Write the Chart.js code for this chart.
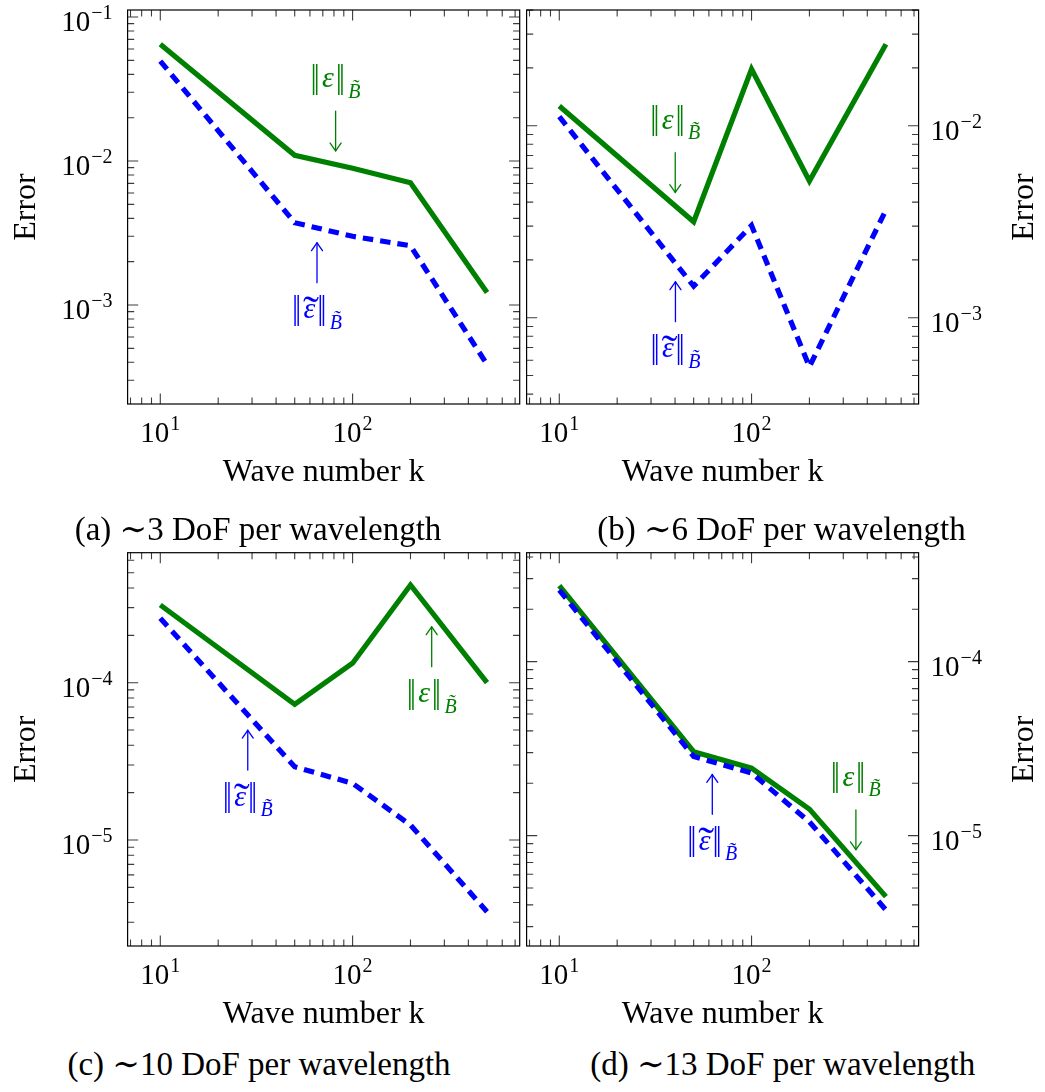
<!DOCTYPE html>
<html><head><meta charset="utf-8">
<script src="https://cdn.jsdelivr.net/npm/chart.js@4.4.1/dist/chart.umd.min.js"></script>
<style>
html,body{margin:0;padding:0;background:#fff;}
body{width:1045px;height:1092px;position:relative;overflow:hidden;font-family:"Liberation Serif","DejaVu Serif",serif;}
canvas{position:absolute;}
.cap{position:absolute;font-size:33px;line-height:33px;white-space:nowrap;text-align:center;color:#000;width:500px;}
</style></head><body>
<canvas id="ca" width="522" height="500" style="left:0;top:0"></canvas>
<canvas id="cb" width="523" height="500" style="left:522px;top:0"></canvas>
<canvas id="cc" width="522" height="500" style="left:0;top:542px"></canvas>
<canvas id="cd" width="523" height="500" style="left:522px;top:542px"></canvas>
<div class="cap" id="capa" style="left:8px;top:512.9px"></div>
<div class="cap" id="capb" style="left:531.5px;top:512.9px"></div>
<div class="cap" id="capc" style="left:9px;top:1048.4px"></div>
<div class="cap" id="capd" style="left:532.7px;top:1048.4px"></div>
<script>
// ---------------- data ----------------
const waveNumbers = [10, 50, 100, 200, 500];

const errA      = [0.0646, 0.01096, 0.0089, 0.00706, 0.00122];
const errTildeA = [0.0494, 0.00373, 0.0030, 0.00258, 0.000387];

const errB      = [0.01267, 0.00316, 0.0197, 0.00515, 0.02655];
const errTildeB = [0.01114, 0.00146, 0.00302, 0.000556, 0.00364];

const errC      = [3.12e-4, 7.29e-5, 1.33e-4, 4.18e-4, 1.0e-4];
const errTildeC = [2.57e-4, 2.92e-5, 2.29e-5, 1.245e-5, 3.5e-6];

const errD      = [2.74e-4, 3.04e-5, 2.44e-5, 1.42e-5, 4.46e-6];
const errTildeD = [2.58e-4, 2.85e-5, 2.29e-5, 1.2e-5, 3.74e-6];

const xTickExponents = [1, 2];
const yTickExpA = [-1, -2, -3];
const yTickExpB = [-2, -3];
const yTickExpC = [-4, -5];
const yTickExpD = [-4, -5];

const captionA = '(a) \u223C3 DoF per wavelength';
const captionB = '(b) \u223C6 DoF per wavelength';
const captionC = '(c) \u223C10 DoF per wavelength';
const captionD = '(d) \u223C13 DoF per wavelength';

const xTitle = 'Wave number k';
const yTitle = 'Error';

// annotation anchors (arrow tip, data coordinates)
const annoA = [{s: 'e', x: 81.6, y: 0.01173, dir: 'down'}, {s: 'et', x: 65.3, y: 0.00271, dir: 'up'}];
const annoB = [{s: 'e', x: 40.1, y: 0.00448, dir: 'down'}, {s: 'et', x: 40.2, y: 0.00154, dir: 'up'}];
const annoC = [{s: 'e', x: 257.8, y: 2.27e-4, dir: 'up'}, {s: 'et', x: 28.5, y: 5.0e-5, dir: 'up'}];
const annoD = [{s: 'e', x: 349, y: 8.28e-6, dir: 'down'}, {s: 'et', x: 62.5, y: 2.25e-5, dir: 'up'}];

// ---------------- rendering ----------------
const FONT = '"Liberation Serif", "DejaVu Serif", serif';
const GREEN = '#008000', BLUE = '#0000ff';
document.getElementById('capa').textContent = captionA;
document.getElementById('capb').textContent = captionB;
document.getElementById('capc').textContent = captionC;
document.getElementById('capd').textContent = captionD;

function logTicks(scale) {
  const ticks = [];
  const e0 = Math.floor(Math.log10(scale.min)), e1 = Math.ceil(Math.log10(scale.max));
  for (let e = e0; e <= e1; e++) for (let m = 1; m <= 9; m++) {
    const v = m * Math.pow(10, e);
    if (v >= scale.min * (1 + 1e-9) && v <= scale.max * (1 - 1e-9)) ticks.push({value: v, major: m === 1});
  }
  scale.ticks = ticks;
}

function drawPow(ctx, cx, baseY, exp, align) {
  const sup = exp < 0 ? '\u2212' + (-exp) : String(exp);
  ctx.font = '29px ' + FONT; const w1 = ctx.measureText('10').width;
  ctx.font = '20px ' + FONT; const w2 = ctx.measureText(sup).width;
  const gap = 1, total = w1 + gap + w2;
  const x0 = align === 'center' ? cx - total / 2 : align === 'right' ? cx - total : cx;
  ctx.textAlign = 'left'; ctx.textBaseline = 'alphabetic';
  ctx.font = '29px ' + FONT; ctx.fillText('10', x0, baseY);
  ctx.font = '20px ' + FONT; ctx.fillText(sup, x0 + w1 + gap, baseY - 12);
}

// draw a glyph stretched so that its ink spans [top, bottom] vertically, ink left edge at x
function drawStretched(ctx, t, font, x, top, bottom, inkW) {
  ctx.font = font;
  const m = ctx.measureText(t);
  const asc = m.actualBoundingBoxAscent, desc = m.actualBoundingBoxDescent;
  const sy = (bottom - top) / (asc + desc);
  const w = m.actualBoundingBoxLeft + m.actualBoundingBoxRight;
  const sx = inkW ? inkW / w : 1;
  ctx.save();
  ctx.translate(x, top + sy * asc);
  ctx.scale(sx, sy);
  ctx.fillText(t, m.actualBoundingBoxLeft, 0);
  ctx.restore();
  return w * sx;
}

function inkBox(ctx, t, font) {
  ctx.font = font;
  const m = ctx.measureText(t);
  return {l: m.actualBoundingBoxLeft, w: m.actualBoundingBoxLeft + m.actualBoundingBoxRight};
}

function drawAnno(ctx, xs, ys, an) {
  const color = an.s === 'e' ? GREEN : BLUE;
  const px = xs.getPixelForValue(an.x), tip = ys.getPixelForValue(an.y);
  const d = an.dir === 'down' ? 1 : -1;
  const tail = tip - d * 40;
  ctx.save();
  ctx.strokeStyle = color; ctx.fillStyle = color; ctx.lineWidth = 1.3; ctx.lineCap = 'round';
  ctx.beginPath(); ctx.moveTo(px, tail); ctx.lineTo(px, tip - d * 0.6); ctx.stroke();
  ctx.beginPath();
  ctx.moveTo(px - 5.5, tip - d * 8); ctx.quadraticCurveTo(px - 1.5, tip - d * 2.5, px, tip);
  ctx.moveTo(px + 5.5, tip - d * 8); ctx.quadraticCurveTo(px + 1.5, tip - d * 2.5, px, tip);
  ctx.stroke();

  const base = d === 1 ? tail - 24 : tail + 35.5;
  const barFont = '30px ' + FONT, epsFont = 'italic 30px ' + FONT, subFont = 'italic 20px ' + FONT;
  const barW = 5.2;
  const eps = inkBox(ctx, '\u03B5', epsFont);
  const sub = inkBox(ctx, 'B\u0303', subFont);
  const total = barW + 4 + eps.w + 4 + barW + 5 + sub.w;
  let x = px + 1 - total / 2;
  ctx.textAlign = 'left'; ctx.textBaseline = 'alphabetic';
  drawStretched(ctx, '\u2016', barFont, x, base - 22.5, base + 7.5, barW);
  x += barW + 4;
  ctx.font = epsFont; ctx.fillText('\u03B5', x + eps.l, base);
  if (an.s === 'et') {
    const tm = ctx.measureText('\u02DC');
    // wide tilde above epsilon
    drawStretched(ctx, '\u02DC', '30px ' + FONT, x + eps.w / 2 - 8 + 1.5, base - 21, base - 15.5, 16);
  }
  x += eps.w + 4;
  drawStretched(ctx, '\u2016', barFont, x, base - 22.5, base + 7.5, barW);
  x += barW + 5;
  ctx.font = subFont; ctx.fillText('B\u0303', x + sub.l, base + 10.5);
  ctx.restore();
}

const decor = {
  id: 'decor',
  beforeDatasetsDraw(chart) {
    const {ctx, chartArea: a, scales: {x, y}} = chart;
    ctx.save();
    ctx.strokeStyle = '#3c3c3c'; ctx.lineWidth = 1.1;
    ctx.beginPath();
    for (const t of x.ticks) {
      const p = x.getPixelForValue(t.value), len = t.major ? 10.6 : 6.6;
      ctx.moveTo(p, a.bottom); ctx.lineTo(p, a.bottom - len);
      ctx.moveTo(p, a.top); ctx.lineTo(p, a.top + len);
    }
    for (const t of y.ticks) {
      const p = y.getPixelForValue(t.value), len = t.major ? 10.6 : 6.6;
      ctx.moveTo(a.left, p); ctx.lineTo(a.left + len, p);
      ctx.moveTo(a.right, p); ctx.lineTo(a.right - len, p);
    }
    ctx.stroke();
    ctx.restore();
  },
  afterDatasetsDraw(chart, args, opts) {
    const {ctx, chartArea: a, scales: {x, y}} = chart;
    ctx.save();
    ctx.strokeStyle = '#000'; ctx.lineWidth = 1.2;
    ctx.strokeRect(a.left, a.top, a.right - a.left, a.bottom - a.top);
    ctx.restore();
    for (const an of opts.annos) drawAnno(ctx, x, y, an);
  },
  afterDraw(chart, args, opts) {
    const {ctx, chartArea: a, scales: {x, y}} = chart;
    ctx.save();
    ctx.fillStyle = '#000';
    for (const e of opts.xExps) drawPow(ctx, x.getPixelForValue(Math.pow(10, e)), a.bottom + 38, e, 'center');
    for (const e of opts.yExps) {
      const p = y.getPixelForValue(Math.pow(10, e));
      if (opts.side === 'left') drawPow(ctx, a.left - 15, p + 14, e, 'right');
      else drawPow(ctx, a.right + 12, p + 14, e, 'left');
    }
    ctx.font = '32px ' + FONT; ctx.textAlign = 'center'; ctx.textBaseline = 'alphabetic';
    ctx.translate(opts.side === 'left' ? 35 : a.right + 114.5, (a.top + a.bottom) / 2);
    ctx.rotate(-Math.PI / 2);
    ctx.fillText(yTitle, 0, 0);
    ctx.restore();
  }
};

const X_MIN = 6.7608, X_MAX = 739.5;

function makeChart(id, cfg) {
  const left = cfg.side === 'left';
  return new Chart(document.getElementById(id), {
    type: 'line',
    data: {
      datasets: [
        {label: '\u2016\u03B5\u2016', data: waveNumbers.map((k, i) => ({x: k, y: cfg.e[i]})),
         borderColor: GREEN, borderWidth: 5.2, borderJoinStyle: 'miter', borderCapStyle: 'butt',
         pointRadius: 0, tension: 0, fill: false, order: 1},
        {label: '\u2016\u03B5\u0303\u2016', data: waveNumbers.map((k, i) => ({x: k, y: cfg.et[i]})),
         borderColor: BLUE, borderWidth: 5.2, borderDash: [10.5, 7], borderJoinStyle: 'miter', borderCapStyle: 'butt',
         pointRadius: 0, tension: 0, fill: false, order: 0}
      ]
    },
    options: {
      responsive: false, animation: false, devicePixelRatio: 1,
      layout: {autoPadding: false, padding: left ? {left: 0, right: 2.3, top: cfg.top, bottom: 0}
                                                  : {left: 4.6, right: 0, top: cfg.top, bottom: 0}},
      plugins: {legend: {display: false}, tooltip: {enabled: false},
        decor: {side: cfg.side, xExps: xTickExponents, yExps: cfg.yExps, annos: cfg.annos}},
      scales: {
        x: {type: 'logarithmic', position: 'bottom', min: X_MIN, max: X_MAX,
            afterBuildTicks: logTicks, afterFit: s => { s.height = 96; },
            grid: {display: false}, border: {display: false}, ticks: {display: false},
            title: {display: true, text: xTitle, color: '#000', font: {family: FONT, size: 32}, padding: {top: 0, bottom: 8.6}}},
        y: {type: 'logarithmic', position: cfg.side, min: cfg.yMin, max: cfg.yMax,
            afterBuildTicks: logTicks, afterFit: s => { s.width = left ? 127.6 : 126.4; },
            grid: {display: false}, border: {display: false}, ticks: {display: false},
            title: {display: false, text: yTitle}}
      }
    },
    plugins: [decor]
  });
}

makeChart('ca', {side: 'left',  top: 10,   yMin: 2.054e-4, yMax: 0.1119,   e: errA, et: errTildeA, yExps: yTickExpA, annos: annoA});
makeChart('cb', {side: 'right', top: 10,   yMin: 3.553e-4, yMax: 0.04005,  e: errB, et: errTildeB, yExps: yTickExpB, annos: annoB});
makeChart('cc', {side: 'left',  top: 10.7, yMin: 2.118e-6, yMax: 6.707e-4, e: errC, et: errTildeC, yExps: yTickExpC, annos: annoC});
makeChart('cd', {side: 'right', top: 10.7, yMin: 2.32e-6,  yMax: 4.231e-4, e: errD, et: errTildeD, yExps: yTickExpD, annos: annoD});
</script>
</body></html>
